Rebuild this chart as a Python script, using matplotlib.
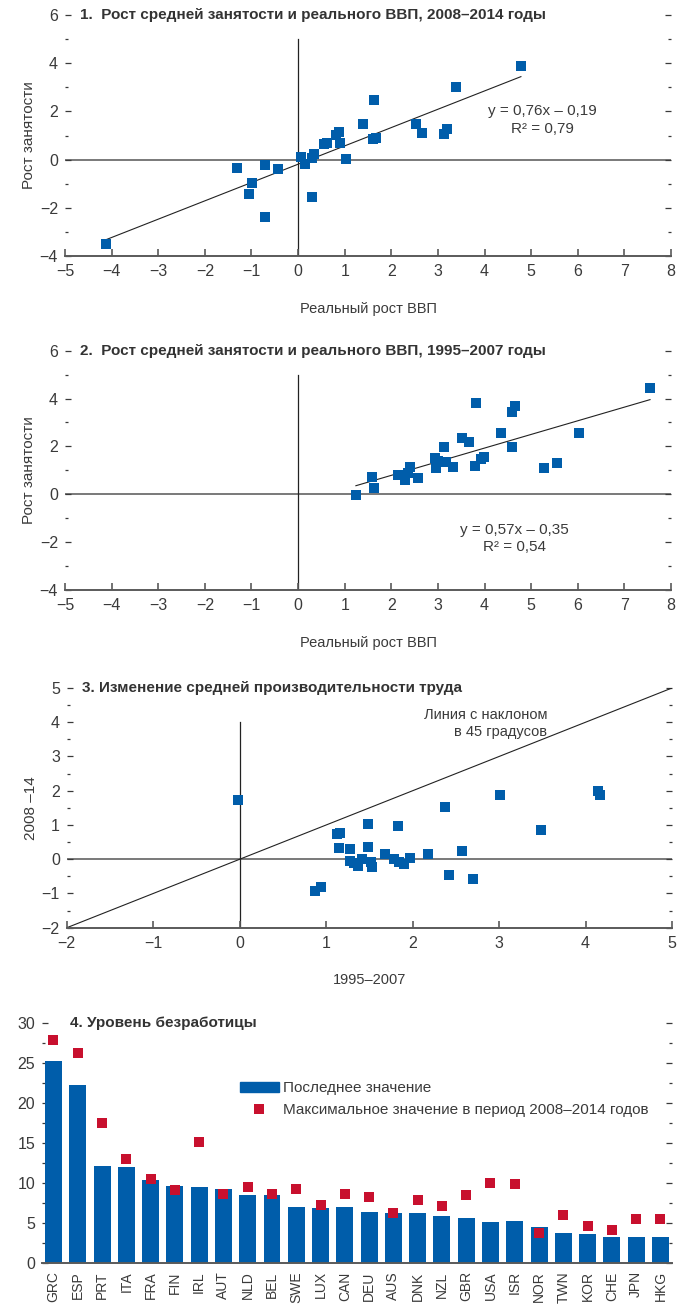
import matplotlib.pyplot as plt
from matplotlib.lines import Line2D
from matplotlib.patches import Patch
from matplotlib.ticker import MultipleLocator

plt.rcParams['font.family'] = ['Liberation Sans', 'DejaVu Sans']
plt.rcParams['text.color'] = '#3a3a3a'
plt.rcParams['axes.labelcolor'] = '#3a3a3a'

BLUE = '#005DAA'
RED = '#C8102E'
GREY = '#5a5a5a'
INK = '#3a3a3a'

# 1. employment vs real GDP growth, 2008-2014
gdp_0814 = [-4.12, -1.31, -0.72, -0.98, -1.05, -0.72, -0.43, 0.07, 0.15, 0.29,
            0.34, 0.29, 0.56, 0.62, 0.81, 0.88, 0.89, 1.03, 1.39, 1.63,
            1.61, 1.67, 2.53, 2.66, 3.12, 3.19, 3.39, 4.78]
emp_0814 = [-3.50, -0.36, -0.22, -0.99, -1.41, -2.38, -0.40, 0.10, -0.18, 0.06,
            0.24, -1.55, 0.63, 0.68, 1.03, 1.14, 0.71, 0.04, 1.46, 2.47,
            0.85, 0.91, 1.46, 1.09, 1.05, 1.25, 3.02, 3.90]
fit_0814 = (0.76, -0.19)

# 2. employment vs real GDP growth, 1995-2007
gdp_9507 = [1.24, 1.58, 1.63, 2.15, 2.29, 2.41, 2.36, 2.57, 2.93, 2.96,
            3.00, 3.12, 3.18, 3.32, 3.52, 3.66, 3.81, 3.79, 3.92, 3.98,
            4.35, 4.58, 4.65, 4.58, 5.28, 5.56, 6.02, 7.55]
emp_9507 = [-0.03, 0.72, 0.25, 0.79, 0.58, 1.13, 0.90, 0.68, 1.51, 1.11,
            1.38, 1.97, 1.34, 1.13, 2.34, 2.17, 3.83, 1.16, 1.48, 1.55,
            2.55, 3.42, 3.70, 1.99, 1.09, 1.30, 2.55, 4.46]
fit_9507 = (0.57, -0.35)

# 3. labour productivity growth
prod_9507 = [-0.02, 0.87, 0.94, 1.13, 1.16, 1.15, 1.27, 1.28, 1.32, 1.37,
             1.42, 1.48, 1.48, 1.52, 1.53, 1.68, 1.78, 1.83, 1.84, 1.90,
             1.97, 2.18, 2.37, 2.42, 2.57, 2.70, 3.01, 3.49, 4.14, 4.17]
prod_0814 = [1.73, -0.94, -0.82, 0.73, 0.77, 0.34, 0.29, -0.05, -0.12, -0.21,
             0.00, 0.37, 1.04, -0.07, -0.24, 0.15, 0.02, 0.98, -0.08, -0.14,
             0.05, 0.15, 1.53, -0.47, 0.25, -0.59, 1.88, 0.85, 2.00, 1.88]

# 4. unemployment rate
countries = ['GRC', 'ESP', 'PRT', 'ITA', 'FRA', 'FIN', 'IRL', 'AUT', 'NLD', 'BEL',
             'SWE', 'LUX', 'CAN', 'DEU', 'AUS', 'DNK', 'NZL', 'GBR', 'USA', 'ISR',
             'NOR', 'TWN', 'KOR', 'CHE', 'JPN', 'HKG']
unemp_latest = [25.3, 22.3, 12.1, 12.0, 10.4, 9.6, 9.5, 9.2, 8.5, 8.5,
                7.0, 6.85, 7.0, 6.35, 6.2, 6.2, 5.85, 5.6, 5.1, 5.2,
                4.5, 3.7, 3.6, 3.2, 3.2, 3.2]
unemp_peak = [27.9, 26.3, 17.5, 13.0, 10.5, 9.15, 15.1, 8.6, 9.5, 8.65,
              9.3, 7.3, 8.65, 8.3, 6.3, 7.9, 7.15, 8.5, 10.0, 9.9,
              3.75, 6.0, 4.6, 4.1, 5.5, 5.5]


def style_axes(ax, ymajor, yminor):
    for side in ('left', 'right', 'top'):
        ax.spines[side].set_visible(False)
    ax.spines['bottom'].set_color(GREY)
    ax.spines['bottom'].set_linewidth(1.4)
    ax.yaxis.set_major_locator(MultipleLocator(ymajor))
    ax.yaxis.set_minor_locator(MultipleLocator(yminor))
    ax.tick_params(axis='y', which='both', direction='in', left=True, right=True,
                   labelright=False, color=INK, labelcolor=INK, labelsize=11.5, pad=5)
    ax.tick_params(axis='y', which='major', length=4.5, width=0.9)
    ax.tick_params(axis='y', which='minor', length=2.2, width=0.9)


def scatter_panel(ax, x, y, xlim, ylim, vtop, title, xlabel, ylabel):
    ax.set_xlim(*xlim)
    ax.set_ylim(*ylim)
    wide = ylim[1] - ylim[0] > 8
    style_axes(ax, 2 if wide else 1, 1 if wide else 0.5)
    ax.xaxis.set_major_locator(MultipleLocator(1))
    ax.tick_params(axis='x', direction='in', length=4.8, width=1.2, color=GREY,
                   labelcolor=INK, labelsize=11.5, pad=6)
    ax.axhline(0, color='#6e6e6e', lw=1.3, zorder=1)
    ax.plot([0, 0], [ylim[0], vtop], color='#222222', lw=0.9, zorder=1)
    ax.plot(x, y, ls='none', marker='s', ms=7.2, mew=0, color=BLUE, zorder=3)
    ax.text(0.025, ylim[1], title, transform=ax.get_yaxis_transform(),
            ha='left', va='center', fontsize=11, fontweight='bold', color='#333333')
    ax.set_xlabel(xlabel, fontsize=10.5, labelpad=16)
    ax.set_ylabel(ylabel, fontsize=11, labelpad=2.5)


fig = plt.figure(figsize=(6.88, 13.05), dpi=100)

ax1 = fig.add_axes([0.0945, 0.8038, 0.8808, 0.1847])
scatter_panel(ax1, gdp_0814, emp_0814, (-5, 8), (-4, 6), 5,
              '1.  Рост средней занятости и реального ВВП, 2008–2014 годы',
              'Реальный рост ВВП', 'Рост занятости')
xs = [min(gdp_0814), max(gdp_0814)]
ax1.plot(xs, [fit_0814[0] * v + fit_0814[1] for v in xs], color='#222222', lw=0.8, zorder=2)
ax1.text(5.25, 1.65, 'y = 0,76x – 0,19\nR² = 0,79', ha='center', va='center',
         fontsize=11, linespacing=1.35)

ax2 = fig.add_axes([0.0945, 0.5479, 0.8808, 0.1834])
scatter_panel(ax2, gdp_9507, emp_9507, (-5, 8), (-4, 6), 5,
              '2.  Рост средней занятости и реального ВВП, 1995–2007 годы',
              'Реальный рост ВВП', 'Рост занятости')
xs = [min(gdp_9507), max(gdp_9507)]
ax2.plot(xs, [fit_9507[0] * v + fit_9507[1] for v in xs], color='#222222', lw=0.8, zorder=2)
ax2.text(4.65, -1.85, 'y = 0,57x – 0,35\nR² = 0,54', ha='center', va='center',
         fontsize=11, linespacing=1.35)

ax3 = fig.add_axes([0.0971, 0.2891, 0.8796, 0.1837])
scatter_panel(ax3, prod_9507, prod_0814, (-2, 5), (-2, 5), 4,
              '3. Изменение средней производительности труда',
              '1995–2007', '2008 –14')
ax3.plot([-2, 5], [-2, 5], color='#222222', lw=0.8, zorder=2)
ax3.text(3.56, 3.96, 'Линия с наклоном\nв 45 градусов', ha='right', va='center',
         fontsize=10.5, linespacing=1.3)

ax4 = fig.add_axes([0.061, 0.0322, 0.9157, 0.1839])
pos = list(range(len(countries)))
ax4.bar(pos, unemp_latest, width=0.7, color=BLUE, zorder=2)
ax4.plot(pos, unemp_peak, ls='none', marker='s', ms=7.2, mew=0, color=RED, zorder=3)
ax4.set_xlim(-0.475, len(countries) - 0.525)
ax4.set_ylim(0, 30)
style_axes(ax4, 5, 2.5)
ax4.set_xticks(pos)
ax4.set_xticklabels(countries, rotation=90, fontsize=10, color=INK)
ax4.tick_params(axis='x', length=0, pad=6)
ax4.text(0.044, 30, '4. Уровень безработицы', transform=ax4.get_yaxis_transform(),
         ha='left', va='center', fontsize=11, fontweight='bold', color='#333333')
handles = [Patch(color=BLUE),
           Line2D([], [], ls='none', marker='s', ms=7.2, mew=0, color=RED)]
ax4.legend(handles, ['Последнее значение', 'Максимальное значение в период 2008–2014 годов'],
           loc='upper left', bbox_to_anchor=(0.314, 0.757), frameon=False,
           fontsize=11, handlelength=2.55, handleheight=0.68, handletextpad=0.3,
           labelspacing=0.5, borderpad=0, borderaxespad=0)

fig.savefig('out.png', dpi=100)
